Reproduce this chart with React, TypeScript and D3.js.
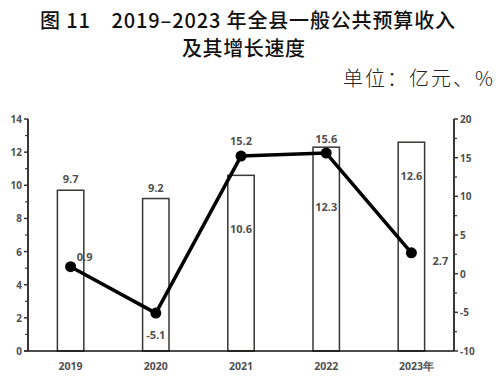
import React from "react";
import * as d3 from "d3";

const years = ["2019", "2020", "2021", "2022", "2023"];
const xLabels = ["2019", "2020", "2021", "2022", "2023年"];
const revenue = [9.7, 9.2, 10.6, 12.3, 12.6];
const growth = [0.9, -5.1, 15.2, 15.6, 2.7];
const leftTicks = [0, 2, 4, 6, 8, 10, 12, 14];
const rightTicks = [-10, -5, 0, 5, 10, 15, 20];

export default function App() {
  const W = 498, H = 382;
  const left = 28, right = 454, top = 119, bottom = 351;
  const x = d3.scaleBand<string>().domain(years).range([left, right]).padding(0);
  const yL = d3.scaleLinear().domain([0, 14]).range([bottom, top]);
  const yR = d3.scaleLinear().domain([-10, 20]).range([bottom, top]);
  const bw = x.bandwidth() * 0.31;
  const cx = (y: string) => (x(y) as number) + x.bandwidth() / 2;
  const line = d3.line<number>().x((_, i) => cx(years[i])).y((d) => yR(d));
  const labelFont = "'Open Sans', 'Liberation Sans', sans-serif";
  const labelColor = "#505050";

  const leftMinor = d3.range(1, 14, 2);
  const rightMinor = d3.range(-7.5, 20, 5);

  const barLabelOffsets = [-11, -11, 54, 60, 34];
  const growthOffsets: [number, number][] = [
    [14, -10],
    [0, 22],
    [0, -15],
    [0, -14],
    [29, 8],
  ];

  return (
    <svg width={W} height={H} style={{ position: "absolute", left: 0, top: 0, background: "#fff" }}>
      <rect width={W} height={H} fill="#fff" />
      <text x={40} y={28} textLength={415} lengthAdjust="spacing" fontFamily="'Noto Sans CJK SC', sans-serif" fontWeight={500} fontSize={20} fill="#111">
        图 11　2019–2023 年全县一般公共预算收入
      </text>
      <text x={182} y={56} textLength={123} lengthAdjust="spacing" fontFamily="'Noto Sans CJK SC', sans-serif" fontWeight={500} fontSize={20} fill="#111">
        及其增长速度
      </text>
      <text x={343} y={86} textLength={150} lengthAdjust="spacing" fontFamily="'Noto Sans CJK SC', sans-serif" fontWeight={300} fontSize={20} fill="#222">
        单位：亿元、%
      </text>

      {/* bars */}
      {revenue.map((v, i) => (
        <rect
          key={"b" + i}
          x={cx(years[i]) - bw / 2}
          y={yL(v)}
          width={bw}
          height={bottom - yL(v)}
          fill="#fff"
          stroke="#3a3633"
          strokeWidth={1.5}
        />
      ))}

      {/* axes */}
      <line x1={left} x2={left} y1={top} y2={bottom} stroke="#3a3633" strokeWidth={2} />
      <line x1={right} x2={right} y1={top} y2={bottom} stroke="#3a3633" strokeWidth={2} />
      <line x1={left - 4} x2={right} y1={bottom} y2={bottom} stroke="#111" strokeWidth={1.5} />
      {leftTicks.map((t) => (
        <g key={"lt" + t}>
          <line x1={left - 4} x2={left} y1={yL(t)} y2={yL(t)} stroke="#3a3633" strokeWidth={1.5} />
          <text x={left - 6} y={yL(t) + 4} textAnchor="end" fontFamily={labelFont} fontWeight={700} fontSize={10} fill={labelColor}>
            {t}
          </text>
        </g>
      ))}
      {leftMinor.map((t) => (
        <line key={"lm" + t} x1={left - 3} x2={left} y1={yL(t)} y2={yL(t)} stroke="#3a3633" strokeWidth={1.2} />
      ))}
      {rightTicks.map((t) => (
        <g key={"rt" + t}>
          <line x1={right} x2={right + 4} y1={yR(t)} y2={yR(t)} stroke="#3a3633" strokeWidth={1.5} />
          <text x={right + 6} y={yR(t) + 4} textAnchor="start" fontFamily={labelFont} fontWeight={700} fontSize={10} fill={labelColor}>
            {t}
          </text>
        </g>
      ))}
      {rightMinor.map((t) => (
        <line key={"rm" + t} x1={right} x2={right + 3} y1={yR(t)} y2={yR(t)} stroke="#3a3633" strokeWidth={1.2} />
      ))}
      {xLabels.map((l, i) => (
        <text key={"xl" + i} x={cx(years[i]) + (i === 4 ? 5 : 0)} y={370} textAnchor="middle" fontFamily={labelFont} fontWeight={700} fontSize={10.5} fill={labelColor}>
          {l}
        </text>
      ))}

      {/* line */}
      <path d={line(growth) as string} fill="none" stroke="#000" strokeWidth={3.5} strokeLinejoin="round" />
      {growth.map((v, i) => (
        <circle key={"c" + i} cx={cx(years[i])} cy={yR(v)} r={5.5} fill="#000" />
      ))}

      {/* bar labels */}
      {revenue.map((v, i) => (
        <text
          key={"bl" + i}
          x={cx(years[i])}
          y={yL(v) + barLabelOffsets[i] + 4}
          textAnchor="middle"
          fontFamily={labelFont}
          fontWeight={700}
          fontSize={11}
          fill={labelColor}
        >
          {v.toFixed(1)}
        </text>
      ))}
      {growth.map((v, i) => (
        <text
          key={"gl" + i}
          x={cx(years[i]) + growthOffsets[i][0]}
          y={yR(v) + growthOffsets[i][1] + 4}
          textAnchor="middle"
          fontFamily={labelFont}
          fontWeight={700}
          fontSize={11}
          fill={labelColor}
        >
          {v.toFixed(1)}
        </text>
      ))}
    </svg>
  );
}
